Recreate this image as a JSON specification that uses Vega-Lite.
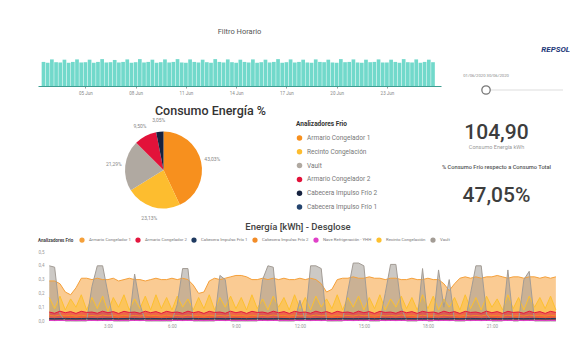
{
"$schema": "https://vega.github.io/schema/vega-lite/v6.json",
"background": "white",
"padding": {"left": 38, "top": 27, "right": 0, "bottom": 0},
"autosize": {"type": "pad"},
"config": {
  "view": {"stroke": null},
  "font": "Roboto",
  "locale": {"number": {"decimal": ",", "thousands": ".", "grouping": [3], "currency": ["", " €"]}},
  "title": {"color": "#555", "fontWeight": "normal"}
},
"spacing": 0,
"resolve": {"scale": {"color": "independent"}, "legend": {"color": "independent"}},
"vconcat": [
 {
  "spacing": 0,
  "resolve": {"scale": {"color": "independent"}, "legend": {"color": "independent"}},
  "hconcat": [
   {
    "bounds": "flush",
    "spacing": 35,
    "resolve": {"scale": {"color": "independent"}, "legend": {"color": "independent"}},
    "vconcat": [
     {
      "title": {"text": "Filtro Horario", "fontSize": 7.5, "color": "#555", "offset": 23, "fontWeight": "normal", "frame": "group"},
      "width": 403, "height": 28,
      "data": {"values": [
{"d":2.5,"e":0.86},{"d":2.75,"e":0.83},
{"d":3,"e":0.95},{"d":3.25,"e":0.85},{"d":3.5,"e":0.84},{"d":3.75,"e":0.94},
{"d":4,"e":0.83},{"d":4.25,"e":0.86},{"d":4.5,"e":0.95},{"d":4.75,"e":0.84},
{"d":5,"e":0.85},{"d":5.25,"e":0.94},{"d":5.5,"e":0.83},{"d":5.75,"e":0.86},
{"d":6,"e":0.96},{"d":6.25,"e":0.84},{"d":6.5,"e":0.85},{"d":6.75,"e":0.93},
{"d":7,"e":0.84},{"d":7.25,"e":0.86},{"d":7.5,"e":0.95},{"d":7.75,"e":0.83},
{"d":8,"e":0.85},{"d":8.25,"e":0.96},{"d":8.5,"e":0.84},{"d":8.75,"e":0.86},
{"d":9,"e":0.94},{"d":9.25,"e":0.83},{"d":9.5,"e":0.85},{"d":9.75,"e":0.95},
{"d":10,"e":0.84},{"d":10.25,"e":0.86},{"d":10.5,"e":0.96},{"d":10.75,"e":0.84},
{"d":11,"e":0.83},{"d":11.25,"e":0.95},{"d":11.5,"e":0.86},{"d":11.75,"e":0.84},
{"d":12,"e":0.94},{"d":12.25,"e":0.85},{"d":12.5,"e":0.83},{"d":12.75,"e":0.96},
{"d":13,"e":0.86},{"d":13.25,"e":0.84},{"d":13.5,"e":0.95},{"d":13.75,"e":0.85},
{"d":14,"e":0.83},{"d":14.25,"e":0.94},{"d":14.5,"e":0.86},{"d":14.75,"e":0.84},
{"d":15,"e":0.95},{"d":15.25,"e":0.83},{"d":15.5,"e":0.85},{"d":15.75,"e":0.94},
{"d":16,"e":0.84},{"d":16.25,"e":0.86},{"d":16.5,"e":0.96},{"d":16.75,"e":0.83},
{"d":17,"e":0.85},{"d":17.25,"e":0.95},{"d":17.5,"e":0.84},{"d":17.75,"e":0.86},
{"d":18,"e":0.94},{"d":18.25,"e":0.84},{"d":18.5,"e":0.83},{"d":18.75,"e":0.95},
{"d":19,"e":0.86},{"d":19.25,"e":0.85},{"d":19.5,"e":0.94},{"d":19.75,"e":0.84},
{"d":20,"e":0.83},{"d":20.25,"e":0.96},{"d":20.5,"e":0.85},{"d":20.75,"e":0.86},
{"d":21,"e":0.95},{"d":21.25,"e":0.84},{"d":21.5,"e":0.83},{"d":21.75,"e":0.94},
{"d":22,"e":0.85},{"d":22.25,"e":0.86},{"d":22.5,"e":0.95},{"d":22.75,"e":0.84},
{"d":23,"e":0.84},{"d":23.25,"e":0.94},{"d":23.5,"e":0.86},{"d":23.75,"e":0.83},
{"d":24,"e":0.96},{"d":24.25,"e":0.85},{"d":24.5,"e":0.84},{"d":24.75,"e":0.95},
{"d":25,"e":0.83},{"d":25.25,"e":0.86},{"d":25.5,"e":0.94},{"d":25.75,"e":0.85}
      ]},
      "mark": {"type": "bar", "size": 3.7, "color": "#72D9CB"},
      "encoding": {
        "x": {"field": "d", "type": "quantitative", "scale": {"domain": [2.47, 25.93], "nice": false, "zero": false},
              "axis": {"title": null, "values": [5,8,11,14,17,20,23], "labelExpr": "(datum.value < 10 ? '0' : '') + datum.value + ' Jun'", "labelFontSize": 4.5, "labelColor": "#888", "domainColor": "#3E9E92", "domainWidth": 1.2, "tickColor": "#999", "tickSize": 2, "labelPadding": 2, "grid": false}},
        "y": {"field": "e", "type": "quantitative", "scale": {"domain": [0, 1]}, "axis": null}
      }
     },
     {
      "title": {"text": "Consumo Energía %", "fontSize": 12.5, "fontWeight": 500, "color": "#333", "dx": 47, "offset": 0.5, "frame": "group"},
      "width": 251, "height": 98,
      "data": {"values": [
        {"a": "Armario Congelador 1", "p": 0.4303},
        {"a": "Recinto Congelación", "p": 0.2313},
        {"a": "Vault", "p": 0.2129},
        {"a": "Armario Congelador 2", "p": 0.0950},
        {"a": "Cabecera Impulso Frío 2", "p": 0.0305},
        {"a": "Cabecera Impulso Frío 1", "p": 0.0}
      ]},
      "encoding": {
        "theta": {"field": "p", "type": "quantitative", "stack": true},
        "order": {"field": "p", "sort": "descending"},
        "color": {"field": "a", "type": "nominal",
          "scale": {"domain": ["Armario Congelador 1", "Recinto Congelación", "Vault", "Armario Congelador 2", "Cabecera Impulso Frío 2", "Cabecera Impulso Frío 1"],
                    "range": ["#F7901E", "#FDBD2F", "#B0A9A1", "#E2123A", "#16223F", "#24446E"]},
          "legend": {"title": "Analizadores Frio", "orient": "right", "offset": 7, "titleFontSize": 6.5, "titleColor": "#333", "titleFontWeight": "bold", "labelFontSize": 6.5, "labelColor": "#777", "symbolType": "circle", "symbolSize": 30, "rowPadding": 6.8, "titlePadding": 7}}
      },
      "layer": [
        {"mark": {"type": "arc", "radius": 38.5}},
        {"transform": [{"filter": "datum.p > 0.01"}],
         "mark": {"type": "text", "radius": 50, "fontSize": 5},
         "encoding": {"text": {"field": "p", "type": "quantitative", "format": ".2%"}, "color": {"value": "#888"}}}
      ]
     }
    ]
   },
   {
    "bounds": "flush",
    "spacing": 0,
    "vconcat": [
     {
      "width": 119, "height": 64,
      "title": {"text": "REPSOL", "anchor": "end", "fontSize": 8, "fontWeight": "bold", "fontStyle": "italic", "color": "#1F3B7A", "offset": 4, "dx": 7, "frame": "group"},
      "data": {"values": [{"start": "2020-06-01", "end": "2020-06-30", "label": "01/06/2020      30/06/2020"}]},
      "encoding": {"x": {"field": "start", "type": "temporal", "scale": {"domain": [{"year": 2020, "month": 5, "date": 16, "hours": 4}, {"year": 2020, "month": 6, "date": 30}]}, "axis": null}},
      "layer": [
        {"mark": {"type": "rule", "color": "#dddddd", "strokeWidth": 1}, "encoding": {"x2": {"field": "end"}}},
        {"mark": {"type": "point", "filled": true, "fill": "white", "stroke": "#777", "strokeWidth": 1.3, "size": 70, "opacity": 1}},
        {"mark": {"type": "text", "dy": -14, "fontSize": 4.2, "color": "#888"}, "encoding": {"text": {"field": "label"}}}
      ]
     },
     {
      "width": 105, "height": 22,
      "title": {"text": "Consumo Energía kWh", "orient": "bottom", "fontSize": 5.5, "color": "#999", "offset": 1, "fontWeight": "normal", "frame": "group",
                "subtitle": "% Consumo Frío respecto a Consumo Total", "subtitleFontSize": 5.7, "subtitleColor": "#555", "subtitleFontWeight": 500, "subtitlePadding": 13},
      "data": {"values": [{"v": 104.9}]},
      "mark": {"type": "text", "fontSize": 21, "fontWeight": 500, "color": "#3d3d3d"},
      "encoding": {"text": {"field": "v", "type": "quantitative", "format": ",.2f"}}
     },
     {
      "width": 105, "height": 75,
      "data": {"values": [{"v": 0.4705}]},
      "mark": {"type": "text", "fontSize": 21, "fontWeight": 500, "color": "#3d3d3d", "dy": 14.5},
      "encoding": {"text": {"field": "v", "type": "quantitative", "format": ".2%"}}
     }
    ]
   }
  ]
 },
 {
  "width": 520, "height": 69,
  "title": {"text": "Energía [kWh] - Desglose", "fontSize": 9.5, "fontWeight": 500, "color": "#444", "offset": 6},
  "data": {"values": [
{"h":0.25,"a1":0.29,"rc":0.17,"v":0.40,"a2":0.065,"c2":0.040,"c1":0.018,"nr":0.004},
{"h":0.5,"a1":0.29,"rc":0.09,"v":0.39,"a2":0.056,"c2":0.036,"c1":0.017,"nr":0.003},
{"h":0.75,"a1":0.27,"rc":0.18,"v":0.05,"a2":0.071,"c2":0.043,"c1":0.018,"nr":0.004},
{"h":1.0,"a1":0.21,"rc":0.08,"v":0,"a2":0.060,"c2":0.038,"c1":0.019,"nr":0.003},
{"h":1.25,"a1":0.19,"rc":0.16,"v":0,"a2":0.068,"c2":0.041,"c1":0.018,"nr":0.004},
{"h":1.5,"a1":0.24,"rc":0.10,"v":0,"a2":0.055,"c2":0.035,"c1":0.017,"nr":0.003},
{"h":1.75,"a1":0.31,"rc":0.19,"v":0,"a2":0.070,"c2":0.042,"c1":0.018,"nr":0.004},
{"h":2.0,"a1":0.31,"rc":0.08,"v":0,"a2":0.062,"c2":0.037,"c1":0.019,"nr":0.003},
{"h":2.25,"a1":0.30,"rc":0.17,"v":0.25,"a2":0.065,"c2":0.040,"c1":0.018,"nr":0.004},
{"h":2.5,"a1":0.31,"rc":0.09,"v":0.40,"a2":0.056,"c2":0.036,"c1":0.017,"nr":0.003},
{"h":2.75,"a1":0.30,"rc":0.18,"v":0.40,"a2":0.071,"c2":0.043,"c1":0.018,"nr":0.004},
{"h":3.0,"a1":0.30,"rc":0.07,"v":0.20,"a2":0.060,"c2":0.038,"c1":0.019,"nr":0.003},
{"h":3.25,"a1":0.31,"rc":0.17,"v":0,"a2":0.068,"c2":0.041,"c1":0.018,"nr":0.004},
{"h":3.5,"a1":0.29,"rc":0.10,"v":0,"a2":0.055,"c2":0.035,"c1":0.017,"nr":0.003},
{"h":3.75,"a1":0.30,"rc":0.19,"v":0,"a2":0.070,"c2":0.042,"c1":0.018,"nr":0.004},
{"h":4.0,"a1":0.31,"rc":0.08,"v":0,"a2":0.062,"c2":0.037,"c1":0.019,"nr":0.003},
{"h":4.25,"a1":0.30,"rc":0.16,"v":0.34,"a2":0.065,"c2":0.040,"c1":0.018,"nr":0.004},
{"h":4.5,"a1":0.30,"rc":0.09,"v":0.12,"a2":0.056,"c2":0.036,"c1":0.017,"nr":0.003},
{"h":4.75,"a1":0.29,"rc":0.18,"v":0,"a2":0.071,"c2":0.043,"c1":0.018,"nr":0.004},
{"h":5.0,"a1":0.30,"rc":0.08,"v":0,"a2":0.060,"c2":0.038,"c1":0.019,"nr":0.003},
{"h":5.25,"a1":0.31,"rc":0.19,"v":0,"a2":0.068,"c2":0.041,"c1":0.018,"nr":0.004},
{"h":5.5,"a1":0.30,"rc":0.09,"v":0,"a2":0.055,"c2":0.035,"c1":0.017,"nr":0.003},
{"h":5.75,"a1":0.30,"rc":0.17,"v":0,"a2":0.070,"c2":0.042,"c1":0.018,"nr":0.004},
{"h":6.0,"a1":0.31,"rc":0.08,"v":0,"a2":0.062,"c2":0.037,"c1":0.019,"nr":0.003},
{"h":6.25,"a1":0.30,"rc":0.18,"v":0.12,"a2":0.065,"c2":0.040,"c1":0.018,"nr":0.004},
{"h":6.5,"a1":0.31,"rc":0.10,"v":0.38,"a2":0.056,"c2":0.036,"c1":0.017,"nr":0.003},
{"h":6.75,"a1":0.30,"rc":0.16,"v":0.38,"a2":0.071,"c2":0.043,"c1":0.018,"nr":0.004},
{"h":7.0,"a1":0.26,"rc":0.08,"v":0,"a2":0.060,"c2":0.038,"c1":0.019,"nr":0.003},
{"h":7.25,"a1":0.20,"rc":0.17,"v":0,"a2":0.068,"c2":0.041,"c1":0.018,"nr":0.004},
{"h":7.5,"a1":0.21,"rc":0.09,"v":0,"a2":0.055,"c2":0.035,"c1":0.017,"nr":0.003},
{"h":7.75,"a1":0.29,"rc":0.19,"v":0,"a2":0.070,"c2":0.042,"c1":0.018,"nr":0.004},
{"h":8.0,"a1":0.31,"rc":0.08,"v":0,"a2":0.062,"c2":0.037,"c1":0.019,"nr":0.003},
{"h":8.25,"a1":0.30,"rc":0.17,"v":0.33,"a2":0.065,"c2":0.040,"c1":0.018,"nr":0.004},
{"h":8.5,"a1":0.31,"rc":0.10,"v":0.30,"a2":0.056,"c2":0.036,"c1":0.017,"nr":0.003},
{"h":8.75,"a1":0.32,"rc":0.18,"v":0,"a2":0.071,"c2":0.043,"c1":0.018,"nr":0.004},
{"h":9.0,"a1":0.33,"rc":0.09,"v":0,"a2":0.060,"c2":0.038,"c1":0.019,"nr":0.003},
{"h":9.25,"a1":0.33,"rc":0.17,"v":0,"a2":0.068,"c2":0.041,"c1":0.018,"nr":0.004},
{"h":9.5,"a1":0.32,"rc":0.08,"v":0,"a2":0.055,"c2":0.035,"c1":0.017,"nr":0.003},
{"h":9.75,"a1":0.30,"rc":0.19,"v":0,"a2":0.070,"c2":0.042,"c1":0.018,"nr":0.004},
{"h":10.0,"a1":0.30,"rc":0.09,"v":0,"a2":0.062,"c2":0.037,"c1":0.019,"nr":0.003},
{"h":10.25,"a1":0.31,"rc":0.16,"v":0.30,"a2":0.065,"c2":0.040,"c1":0.018,"nr":0.004},
{"h":10.5,"a1":0.30,"rc":0.08,"v":0.40,"a2":0.056,"c2":0.036,"c1":0.017,"nr":0.003},
{"h":10.75,"a1":0.31,"rc":0.18,"v":0.39,"a2":0.071,"c2":0.043,"c1":0.018,"nr":0.004},
{"h":11.0,"a1":0.30,"rc":0.10,"v":0,"a2":0.060,"c2":0.038,"c1":0.019,"nr":0.003},
{"h":11.25,"a1":0.31,"rc":0.17,"v":0,"a2":0.068,"c2":0.041,"c1":0.018,"nr":0.004},
{"h":11.5,"a1":0.30,"rc":0.08,"v":0,"a2":0.055,"c2":0.035,"c1":0.017,"nr":0.003},
{"h":11.75,"a1":0.30,"rc":0.19,"v":0,"a2":0.070,"c2":0.042,"c1":0.018,"nr":0.004},
{"h":12.0,"a1":0.31,"rc":0.09,"v":0.15,"a2":0.062,"c2":0.037,"c1":0.019,"nr":0.003},
{"h":12.25,"a1":0.30,"rc":0.17,"v":0,"a2":0.065,"c2":0.040,"c1":0.018,"nr":0.004},
{"h":12.5,"a1":0.31,"rc":0.08,"v":0.40,"a2":0.056,"c2":0.036,"c1":0.017,"nr":0.003},
{"h":12.75,"a1":0.30,"rc":0.18,"v":0.40,"a2":0.071,"c2":0.043,"c1":0.018,"nr":0.004},
{"h":13.0,"a1":0.27,"rc":0.10,"v":0.38,"a2":0.060,"c2":0.038,"c1":0.019,"nr":0.003},
{"h":13.25,"a1":0.21,"rc":0.16,"v":0,"a2":0.068,"c2":0.041,"c1":0.018,"nr":0.004},
{"h":13.5,"a1":0.23,"rc":0.09,"v":0,"a2":0.055,"c2":0.035,"c1":0.017,"nr":0.003},
{"h":13.75,"a1":0.30,"rc":0.19,"v":0,"a2":0.070,"c2":0.042,"c1":0.018,"nr":0.004},
{"h":14.0,"a1":0.31,"rc":0.08,"v":0,"a2":0.062,"c2":0.037,"c1":0.019,"nr":0.003},
{"h":14.25,"a1":0.31,"rc":0.17,"v":0.22,"a2":0.065,"c2":0.040,"c1":0.018,"nr":0.004},
{"h":14.5,"a1":0.32,"rc":0.10,"v":0.42,"a2":0.056,"c2":0.036,"c1":0.017,"nr":0.003},
{"h":14.75,"a1":0.31,"rc":0.18,"v":0.42,"a2":0.071,"c2":0.043,"c1":0.018,"nr":0.004},
{"h":15.0,"a1":0.31,"rc":0.08,"v":0.40,"a2":0.060,"c2":0.038,"c1":0.019,"nr":0.003},
{"h":15.25,"a1":0.32,"rc":0.17,"v":0,"a2":0.068,"c2":0.041,"c1":0.018,"nr":0.004},
{"h":15.5,"a1":0.31,"rc":0.09,"v":0,"a2":0.055,"c2":0.035,"c1":0.017,"nr":0.003},
{"h":15.75,"a1":0.31,"rc":0.19,"v":0,"a2":0.070,"c2":0.042,"c1":0.018,"nr":0.004},
{"h":16.0,"a1":0.30,"rc":0.08,"v":0.20,"a2":0.062,"c2":0.037,"c1":0.019,"nr":0.003},
{"h":16.25,"a1":0.31,"rc":0.16,"v":0.41,"a2":0.065,"c2":0.040,"c1":0.018,"nr":0.004},
{"h":16.5,"a1":0.31,"rc":0.10,"v":0.41,"a2":0.056,"c2":0.036,"c1":0.017,"nr":0.003},
{"h":16.75,"a1":0.30,"rc":0.18,"v":0.10,"a2":0.071,"c2":0.043,"c1":0.018,"nr":0.004},
{"h":17.0,"a1":0.30,"rc":0.09,"v":0,"a2":0.060,"c2":0.038,"c1":0.019,"nr":0.003},
{"h":17.25,"a1":0.31,"rc":0.17,"v":0,"a2":0.068,"c2":0.041,"c1":0.018,"nr":0.004},
{"h":17.5,"a1":0.30,"rc":0.08,"v":0,"a2":0.055,"c2":0.035,"c1":0.017,"nr":0.003},
{"h":17.75,"a1":0.30,"rc":0.19,"v":0.38,"a2":0.070,"c2":0.042,"c1":0.018,"nr":0.004},
{"h":18.0,"a1":0.31,"rc":0.09,"v":0,"a2":0.062,"c2":0.037,"c1":0.019,"nr":0.003},
{"h":18.25,"a1":0.30,"rc":0.18,"v":0,"a2":0.065,"c2":0.040,"c1":0.018,"nr":0.004},
{"h":18.5,"a1":0.30,"rc":0.08,"v":0.37,"a2":0.056,"c2":0.036,"c1":0.017,"nr":0.003},
{"h":18.75,"a1":0.27,"rc":0.16,"v":0.10,"a2":0.071,"c2":0.043,"c1":0.018,"nr":0.004},
{"h":19.0,"a1":0.22,"rc":0.10,"v":0.30,"a2":0.060,"c2":0.038,"c1":0.019,"nr":0.003},
{"h":19.25,"a1":0.27,"rc":0.17,"v":0,"a2":0.068,"c2":0.041,"c1":0.018,"nr":0.004},
{"h":19.5,"a1":0.31,"rc":0.08,"v":0,"a2":0.055,"c2":0.035,"c1":0.017,"nr":0.003},
{"h":19.75,"a1":0.32,"rc":0.19,"v":0,"a2":0.070,"c2":0.042,"c1":0.018,"nr":0.004},
{"h":20.0,"a1":0.31,"rc":0.09,"v":0.20,"a2":0.062,"c2":0.037,"c1":0.019,"nr":0.003},
{"h":20.25,"a1":0.32,"rc":0.17,"v":0.40,"a2":0.065,"c2":0.040,"c1":0.018,"nr":0.004},
{"h":20.5,"a1":0.31,"rc":0.08,"v":0.40,"a2":0.056,"c2":0.036,"c1":0.017,"nr":0.003},
{"h":20.75,"a1":0.32,"rc":0.18,"v":0.05,"a2":0.071,"c2":0.043,"c1":0.018,"nr":0.004},
{"h":21.0,"a1":0.32,"rc":0.10,"v":0,"a2":0.060,"c2":0.038,"c1":0.019,"nr":0.003},
{"h":21.25,"a1":0.33,"rc":0.16,"v":0,"a2":0.068,"c2":0.041,"c1":0.018,"nr":0.004},
{"h":21.5,"a1":0.32,"rc":0.08,"v":0,"a2":0.055,"c2":0.035,"c1":0.017,"nr":0.003},
{"h":21.75,"a1":0.31,"rc":0.19,"v":0.37,"a2":0.070,"c2":0.042,"c1":0.018,"nr":0.004},
{"h":22.0,"a1":0.32,"rc":0.09,"v":0,"a2":0.062,"c2":0.037,"c1":0.019,"nr":0.003},
{"h":22.25,"a1":0.32,"rc":0.17,"v":0,"a2":0.065,"c2":0.040,"c1":0.018,"nr":0.004},
{"h":22.5,"a1":0.31,"rc":0.08,"v":0.30,"a2":0.056,"c2":0.036,"c1":0.017,"nr":0.003},
{"h":22.75,"a1":0.32,"rc":0.18,"v":0.36,"a2":0.071,"c2":0.043,"c1":0.018,"nr":0.004},
{"h":23.0,"a1":0.32,"rc":0.10,"v":0,"a2":0.060,"c2":0.038,"c1":0.019,"nr":0.003},
{"h":23.25,"a1":0.31,"rc":0.17,"v":0,"a2":0.068,"c2":0.041,"c1":0.018,"nr":0.004},
{"h":23.5,"a1":0.32,"rc":0.09,"v":0,"a2":0.055,"c2":0.035,"c1":0.017,"nr":0.003},
{"h":23.75,"a1":0.31,"rc":0.18,"v":0,"a2":0.070,"c2":0.042,"c1":0.018,"nr":0.004},
{"h":24.0,"a1":0.32,"rc":0.08,"v":0,"a2":0.062,"c2":0.037,"c1":0.019,"nr":0.003}
  ]},
  "transform": [{"fold": ["a1", "c2", "rc", "v", "a2", "c1", "nr"], "as": ["k", "val"]}],
  "encoding": {
    "x": {"field": "h", "type": "quantitative", "scale": {"domain": [-0.28, 24.1], "nice": false, "zero": false},
          "axis": {"title": null, "values": [3,6,9,12,15,18,21], "labelExpr": "datum.value + ':00'", "labelFontSize": 4.5, "labelColor": "#999", "domain": false, "ticks": false, "grid": false, "labelPadding": 2}},
    "y": {"field": "val", "type": "quantitative", "stack": null, "scale": {"domain": [0, 0.5]},
          "axis": {"title": null, "values": [0,0.1,0.2,0.3,0.4,0.5], "format": ".1f", "labelFontSize": 4.5, "labelColor": "#999", "domain": false, "ticks": false, "grid": false, "offset": -12, "labelPadding": 6}},
    "color": {"field": "k", "type": "nominal",
      "scale": {"domain": ["a1","a2","c1","c2","nr","rc","v"], "range": ["#F5A03A","#E3173E","#1F3A60","#F28C28","#E040C8","#FDC02F","#A39C95"]},
      "legend": {"orient": "top", "direction": "horizontal", "title": "Analizadores Frio", "titleOrient": "left", "titleFontSize": 4.5, "titleFontWeight": "bold", "titleColor": "#444", "labelFontSize": 4.3, "labelColor": "#777", "symbolType": "circle", "symbolSize": 14, "symbolOpacity": 1, "offset": 7, "columnPadding": 2,
        "labelExpr": "datum.value == 'a1' ? 'Armario Congelador 1' : datum.value == 'a2' ? 'Armario Congelador 2' : datum.value == 'c1' ? 'Cabecera Impulso Frío 1' : datum.value == 'c2' ? 'Cabecera Impulso Frío 2' : datum.value == 'nr' ? 'Nave Refrigeración - YHH' : datum.value == 'rc' ? 'Recinto Congelación' : 'Vault'"}}
  },
  "layer": [
    {"mark": {"type": "area", "opacity": 0.55}},
    {"mark": {"type": "line", "strokeWidth": 1}}
  ]
 }
]
}
